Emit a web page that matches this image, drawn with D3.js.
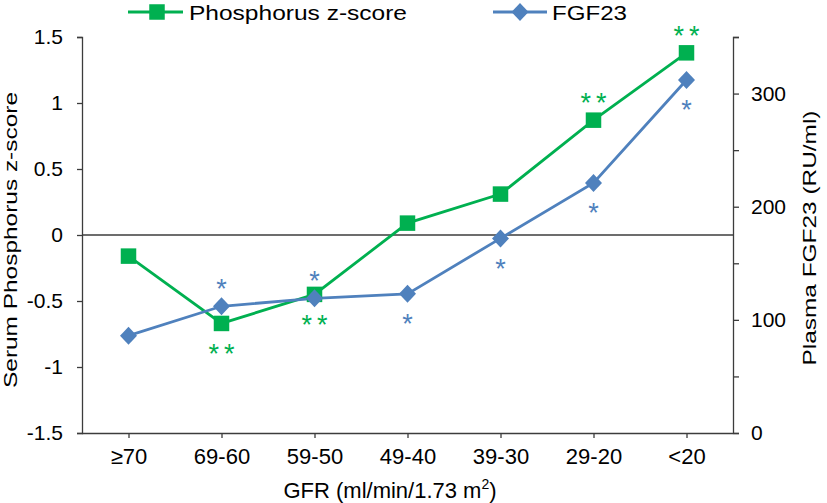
<!DOCTYPE html>
<html>
<head>
<meta charset="utf-8">
<script src="https://cdn.jsdelivr.net/npm/d3@7/dist/d3.min.js"></script>
<style>
  html, body { margin: 0; padding: 0; background: #fff; }
  svg { display: block; font-family: "Liberation Sans", Arial, sans-serif; }
</style>
</head>
<body>
<svg id="chart" width="827" height="503"></svg>
<script>
const categories = ["≥70", "69-60", "59-50", "49-40", "39-30", "29-20", "<20"];
const phosphorus = [-0.16, -0.67, -0.45, 0.09, 0.31, 0.87, 1.38];
const fgf23 = [86, 112, 119, 123, 172, 221, 312];
const phosSig = ["", "**", "**", "", "", "**", "**"];
const phosSigPos = ["", "below", "below", "", "", "above", "above"];
const fgfSig = ["", "*", "*", "*", "*", "*", "*"];
const fgfSigPos = ["", "above", "above", "below", "below", "below", "below"];
const leftTicks = [-1.5, -1, -0.5, 0, 0.5, 1, 1.5];
const rightTicks = [0, 50, 100, 150, 200, 250, 300, 350];
const rightLabelled = [0, 100, 200, 300];
const seriesNames = ["Phosphorus z-score", "FGF23"];
const xTitle = "GFR (ml/min/1.73 m";
const leftTitle = "Serum Phosphorus z-score";
const rightTitle = "Plasma FGF23 (RU/ml)";

const GREEN = "#00B050", BLUE = "#4F81BD", AXIS = "#3c3c3c";
const L = 82, R = 733, T = 37, B = 433;
const svg = d3.select("#chart");

const x = d3.scalePoint().domain(categories).range([L, R]).padding(0.5);
const yL = d3.scaleLinear().domain([-1.5, 1.5]).range([B, T]);
const yR = d3.scaleLinear().domain([0, 350]).range([B, T]);

const fmt = d => (d === 0 ? "0" : String(d));

// Left axis
const gL = svg.append("g").attr("transform", `translate(${L},0)`)
  .call(d3.axisLeft(yL).tickValues(leftTicks).tickFormat(fmt).tickSize(5).tickPadding(14));
// Right axis
const gR = svg.append("g").attr("transform", `translate(${R},0)`)
  .call(d3.axisRight(yR).tickValues(rightTicks)
    .tickFormat(d => rightLabelled.includes(d) ? String(d) : "").tickSize(6).tickPadding(12));
// Bottom axis
const gB = svg.append("g").attr("transform", `translate(0,${B})`)
  .call(d3.axisBottom(x).tickSize(5).tickPadding(10));

[gL, gR, gB].forEach(g => {
  g.select(".domain").attr("stroke", AXIS).attr("stroke-width", 1.3);
  g.selectAll(".tick line").attr("stroke", AXIS).attr("stroke-width", 1.3);
  g.selectAll(".tick text").attr("fill", "#000").style("font-size", "21px")
    .style("font-family", "'Liberation Sans', Arial, sans-serif");
});
gB.selectAll(".tick text").style("font-size", "22px");
gB.select(".domain").attr("d", `M${L},0.5H${R}`);

// zero line
svg.append("line").attr("x1", L).attr("x2", R).attr("y1", yL(0)).attr("y2", yL(0))
  .attr("stroke", AXIS).attr("stroke-width", 1.3);

// Lines
const phosData = categories.map((c, i) => ({c, v: phosphorus[i], s: phosSig[i], p: phosSigPos[i]}));
const fgfData = categories.map((c, i) => ({c, v: fgf23[i], s: fgfSig[i], p: fgfSigPos[i]}));

svg.append("path").datum(phosData)
  .attr("d", d3.line().x(d => x(d.c)).y(d => yL(d.v)))
  .attr("fill", "none").attr("stroke", GREEN).attr("stroke-width", 2.8);
svg.append("path").datum(fgfData)
  .attr("d", d3.line().x(d => x(d.c)).y(d => yR(d.v)))
  .attr("fill", "none").attr("stroke", BLUE).attr("stroke-width", 2.8);

const SQ = 15.5;
const diamond = (cx, cy) => `M${cx},${cy - 9}L${cx + 8.5},${cy}L${cx},${cy + 9}L${cx - 8.5},${cy}Z`;

svg.selectAll("rect.phos").data(phosData).enter().append("rect")
  .attr("x", d => x(d.c) - SQ / 2).attr("y", d => yL(d.v) - SQ / 2)
  .attr("width", SQ).attr("height", SQ).attr("fill", GREEN);
svg.selectAll("path.fgf").data(fgfData).enter().append("path")
  .attr("d", d => diamond(x(d.c), yR(d.v))).attr("fill", BLUE);

// significance markers
const SFS = 27, LS = 5;
const starBase = (cy, pos) => (pos === "above" ? cy - 23 : cy + 24) + 0.56 * SFS;
svg.selectAll("text.ps").data(phosData.filter(d => d.s)).enter().append("text")
  .attr("x", d => x(d.c) + LS / 2).attr("y", d => starBase(yL(d.v), d.p))
  .attr("text-anchor", "middle").attr("fill", GREEN)
  .style("font-size", SFS + "px").style("letter-spacing", LS + "px").text(d => d.s);
svg.selectAll("text.fs").data(fgfData.filter(d => d.s)).enter().append("text")
  .attr("x", d => x(d.c)).attr("y", d => starBase(yR(d.v), d.p))
  .attr("text-anchor", "middle").attr("fill", BLUE)
  .style("font-size", SFS + "px").text(d => d.s);

// Axis titles
svg.append("text").attr("transform", `translate(17,240) rotate(-90)`)
  .attr("text-anchor", "middle").style("font-size", "18.5px")
  .attr("textLength", 296).attr("lengthAdjust", "spacingAndGlyphs").text(leftTitle);
svg.append("text").attr("transform", `translate(816,238) rotate(-90)`)
  .attr("text-anchor", "middle").style("font-size", "18px")
  .attr("textLength", 255).attr("lengthAdjust", "spacingAndGlyphs").text(rightTitle);
const xt = svg.append("text").attr("x", 390).attr("y", 498)
  .attr("text-anchor", "middle").style("font-size", "22px");
xt.append("tspan").text(xTitle);
xt.append("tspan").attr("dy", -9).style("font-size", "14px").text("2");
xt.append("tspan").attr("dy", 9).text(")");

// Legend
const lg = svg.append("g");
lg.append("line").attr("x1", 128).attr("x2", 183).attr("y1", 12).attr("y2", 12)
  .attr("stroke", GREEN).attr("stroke-width", 2.8);
lg.append("rect").attr("x", 157 - SQ / 2).attr("y", 12 - SQ / 2).attr("width", SQ).attr("height", SQ).attr("fill", GREEN);
lg.append("text").attr("x", 189).attr("y", 19.5).style("font-size", "21px")
  .attr("textLength", 218).attr("lengthAdjust", "spacingAndGlyphs").text(seriesNames[0]);
lg.append("line").attr("x1", 493).attr("x2", 547).attr("y1", 12).attr("y2", 12)
  .attr("stroke", BLUE).attr("stroke-width", 2.8);
lg.append("path").attr("d", diamond(520, 12)).attr("fill", BLUE);
lg.append("text").attr("x", 552).attr("y", 19.5).style("font-size", "21px")
  .attr("textLength", 75).attr("lengthAdjust", "spacingAndGlyphs").text(seriesNames[1]);
</script>
</body>
</html>
